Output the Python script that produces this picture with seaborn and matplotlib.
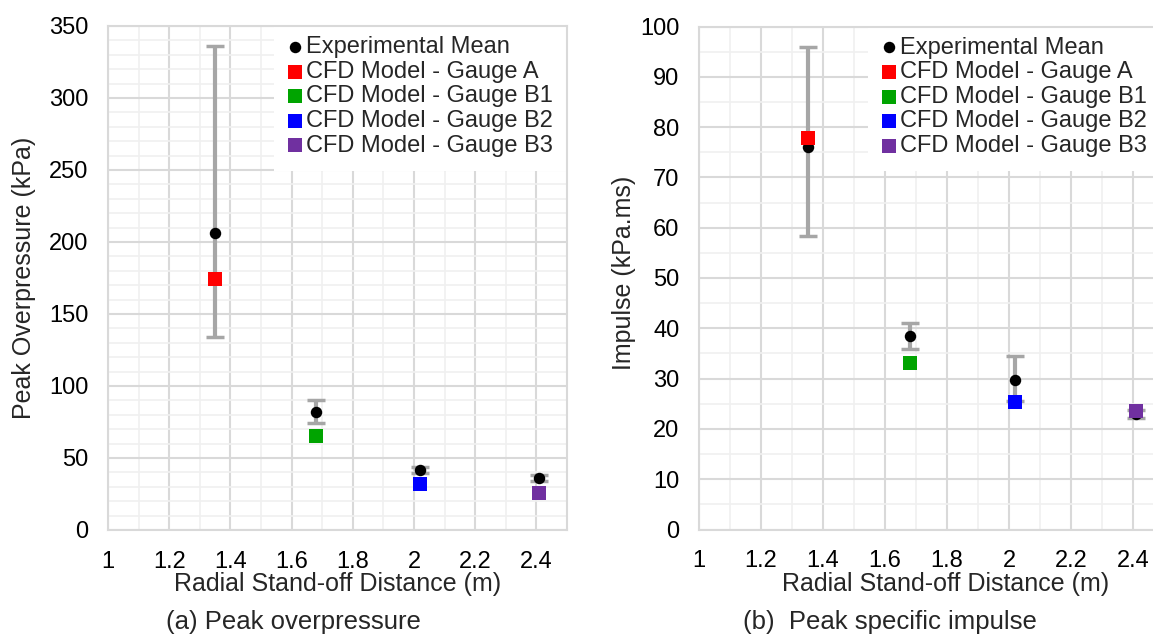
import numpy as np
import pandas as pd
import matplotlib
matplotlib.use("Agg")
import matplotlib.pyplot as plt
from matplotlib.ticker import MultipleLocator, FuncFormatter
import seaborn as sns

# ---------------- data ----------------
distance = [1.35, 1.68, 2.02, 2.41]
gauges = ["CFD Model - Gauge A", "CFD Model - Gauge B1",
          "CFD Model - Gauge B2", "CFD Model - Gauge B3"]
gauge_colors = ["#ff0000", "#00a400", "#0000ff", "#7030a0"]

exp_pressure_mean = [206, 82, 41.5, 36]
exp_pressure_low = [134, 74.5, 39.5, 34]
exp_pressure_high = [336, 90.5, 43.5, 38]
cfd_pressure = [174, 65.5, 32, 26]

exp_impulse_mean = [76, 38.4, 29.7, 23]
exp_impulse_low = [58.4, 35.8, 25.5, 22.2]
exp_impulse_high = [95.9, 41.1, 34.4, 23.8]
cfd_impulse = [77.9, 33.1, 25.4, 23.6]

x_ticks = [1, 1.2, 1.4, 1.6, 1.8, 2, 2.2, 2.4]

# ---------------- style ----------------
sns.set_style("white")
plt.rcParams["font.family"] = ["Liberation Sans", "DejaVu Sans"]

W, H = 1153, 636
fig = plt.figure(figsize=(W / 100, H / 100), dpi=100)

def px_axes(left, right, top, bottom):
    return fig.add_axes([left / W, (H - bottom) / H, (right - left) / W, (bottom - top) / H])

ax1 = px_axes(108, 567, 26, 530)
ax2 = px_axes(699, 1164, 26.5, 529.5)

GRID_MAJ = "#d9d9d9"
GRID_MIN = "#f0f0f0"
ERR = "#a6a6a6"
FS_TICK = 17
FS_LEG = 17
FS_LAB = 18
FS_SUB = 18.5


def draw_panel(ax, mean, low, high, cfd, ylim, ymaj, ymin_, ylabel,
               xlab_pos, ylab_pos, leg_anchor):
    df_exp = pd.DataFrame({"distance": distance, "value": mean})
    yerr = np.array([np.array(mean) - np.array(low), np.array(high) - np.array(mean)])
    ax.errorbar(distance, mean, yerr=yerr, fmt="none", ecolor=ERR,
                elinewidth=3, capsize=6.5, capthick=2.5, zorder=2)
    sns.scatterplot(data=df_exp, x="distance", y="value", ax=ax, color="black",
                    marker="o", s=68, linewidth=0, label="Experimental Mean", zorder=3)
    for xv, yv, g, c in zip(distance, cfd, gauges, gauge_colors):
        sns.scatterplot(x=[xv], y=[yv], ax=ax, color=c, marker="s", s=115,
                        linewidth=0, label=g, zorder=4)

    ax.set_xlim(1, 2.5)
    ax.set_ylim(*ylim)
    ax.set_xticks(x_ticks)
    ax.xaxis.set_minor_locator(MultipleLocator(0.1))
    ax.yaxis.set_major_locator(MultipleLocator(ymaj))
    ax.yaxis.set_minor_locator(MultipleLocator(ymin_))
    ax.xaxis.set_major_formatter(FuncFormatter(lambda v, p: f"{v:g}"))
    ax.yaxis.set_major_formatter(FuncFormatter(lambda v, p: f"{v:g}"))
    ax.grid(which="major", color=GRID_MAJ, linewidth=1.5, zorder=0)
    ax.grid(which="minor", color=GRID_MIN, linewidth=1.2, zorder=0)
    ax.set_axisbelow(True)
    for sp in ax.spines.values():
        sp.set_color(GRID_MAJ)
        sp.set_linewidth(1.5)
        sp.set_zorder(2.6)
    ax.tick_params(which="both", length=0)
    ax.tick_params(axis="x", labelsize=FS_TICK, pad=15, colors="black")
    ax.tick_params(axis="y", labelsize=FS_TICK, pad=14, colors="black")
    ax.set_xlabel("Radial Stand-off Distance (m)", fontsize=FS_LAB, labelpad=0)
    ax.set_ylabel(ylabel, fontsize=FS_LAB)
    ax.xaxis.set_label_coords(*xlab_pos)
    ax.yaxis.set_label_coords(*ylab_pos)

    leg = ax.legend(loc="upper right", bbox_to_anchor=leg_anchor, fontsize=FS_LEG,
                    frameon=True, facecolor="white", edgecolor="white", framealpha=1,
                    fancybox=False, borderaxespad=0, borderpad=0.6,
                    labelspacing=0.11, handlelength=0.6, handletextpad=0.17)
    leg.get_frame().set_linewidth(0)
    leg.set_zorder(2.4)


draw_panel(ax1, exp_pressure_mean, exp_pressure_low, exp_pressure_high, cfd_pressure,
           (0, 350), 50, 10, "Peak Overpressure (kPa)",
           ((338 - 108) / 459, -(572 - 530) / 504), ((36 - 108) / 459, 0.50),
           (1.0, 1 + 4 / 504))
draw_panel(ax2, exp_impulse_mean, exp_impulse_low, exp_impulse_high, cfd_impulse,
           (0, 100), 10, 5, "Impulse (kPa.ms)",
           ((946 - 699) / 465, -(572 - 529.5) / 503), ((636 - 699) / 465, 0.51),
           ((1161 - 699) / 465, 1 + 4 / 503))

fig.text(293 / W, 1 - 622 / H, "(a) Peak overpressure", fontsize=FS_SUB,
         ha="center", va="center")
fig.text(890 / W, 1 - 622 / H, "(b)  Peak specific impulse", fontsize=FS_SUB,
         ha="center", va="center")

fig.savefig("out.png", dpi=100)
